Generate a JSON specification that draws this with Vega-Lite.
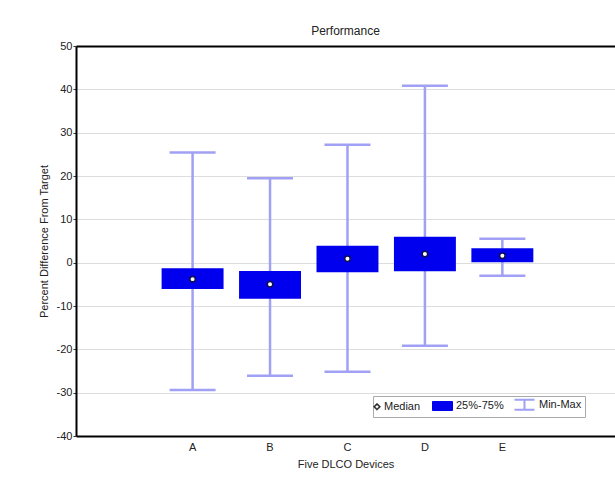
{
  "$schema": "https://vega.github.io/schema/vega-lite/v6.json",
  "width": 539,
  "height": 390,
  "autosize": {"type": "none"},
  "padding": {"left": 76, "top": 46, "right": 0, "bottom": 46},
  "background": "white",
  "config": {
    "font": "Liberation Sans",
    "view": {"stroke": null}
  },
  "title": {
    "text": "Performance",
    "fontSize": 12,
    "fontWeight": "normal",
    "color": "#222",
    "offset": 2,
    "font": "Liberation Sans"
  },
  "data": {
    "values": [
      {"device": "A", "min": -29.4, "q1": -6.1, "median": -3.8, "q3": -1.3, "max": 25.4},
      {"device": "B", "min": -26.1, "q1": -8.3, "median": -5.0, "q3": -1.9, "max": 19.5},
      {"device": "C", "min": -25.2, "q1": -2.2, "median": 0.9, "q3": 3.9, "max": 27.2},
      {"device": "D", "min": -19.2, "q1": -2.0, "median": 2.0, "q3": 6.0, "max": 40.8},
      {"device": "E", "min": -3.0, "q1": 0.1, "median": 1.6, "q3": 3.3, "max": 5.5}
    ]
  },
  "encoding": {
    "x": {
      "field": "device",
      "type": "nominal",
      "scale": {"type": "band", "paddingInner": 0, "paddingOuter": 0.98, "align": 0.513},
      "axis": {
        "title": "Five DLCO Devices",
        "titleFontSize": 11,
        "titleFontWeight": "normal",
        "titleColor": "#222",
        "titlePadding": 6,
        "labelAngle": 0,
        "labelFontSize": 11,
        "labelColor": "#222",
        "labelPadding": 5,
        "ticks": false,
        "domainColor": "black",
        "domainWidth": 2
      }
    }
  },
  "layer": [
    {
      "mark": {"type": "rule", "strokeWidth": 2.5},
      "encoding": {
        "y": {
          "field": "min",
          "type": "quantitative",
          "scale": {"domain": [-40, 50], "nice": false, "zero": false},
          "axis": {
            "title": "Percent Difference From Target",
            "titleFontSize": 11,
            "titleFontWeight": "normal",
            "titleColor": "#222",
            "titlePadding": 7,
            "values": [-40, -30, -20, -10, 0, 10, 20, 30, 40, 50],
            "labelExpr": "'' + datum.value",
            "labelFontSize": 11,
            "labelColor": "#222",
            "labelPadding": 1,
            "tickSize": 3,
            "tickColor": "#333",
            "domainColor": "black",
            "domainWidth": 2,
            "grid": true,
            "gridColor": {"condition": {"test": "datum.value === 50", "value": "black"}, "value": "#dddddd"},
            "gridWidth": {"condition": {"test": "datum.value === 50", "value": 2}, "value": 1}
          }
        },
        "y2": {"field": "max"},
        "color": {
          "datum": "Min-Max",
          "type": "nominal",
          "scale": {"domain": ["Median", "25%-75%", "Min-Max"], "range": ["#222222", "#0000ee", "#a0a0f5"]},
          "legend": {
            "title": null,
            "orient": "none",
            "legendX": 297,
            "legendY": 350,
            "direction": "horizontal",
            "columns": 3,
            "strokeColor": "#aaaaaa",
            "fillColor": "white",
            "padding": 3,
            "columnPadding": 6,
            "labelFontSize": 11,
            "labelColor": "#222",
            "labelOffset": {"expr": "datum.value === 'Median' ? -3 : datum.value === '25%-75%' ? 18 : 8"},
            "symbolSize": 400,
            "symbolOpacity": 1,
            "symbolType": {"expr": "datum.value === 'Median' ? 'M-0.45,-0.36L-0.09,0L-0.45,0.36L-0.81,0ZM-0.45,-0.2L-0.65,0L-0.45,0.2L-0.25,0Z' : datum.value === '25%-75%' ? 'M0,-0.45H2V0.45H0Z' : 'M-1.1,-0.5H0.9M-0.1,-0.5V0.5M-1.1,0.5H0.9'"},
            "symbolFillColor": {"expr": "datum.value === '25%-75%' ? '#0000ee' : datum.value === 'Median' ? '#222222' : 'transparent'"},
            "symbolStrokeColor": {"expr": "datum.value === 'Median' ? '#222222' : datum.value === '25%-75%' ? '#0000ee' : '#a0a0f5'"},
            "symbolStrokeWidth": {"expr": "datum.value === 'Min-Max' ? 2 : datum.value === 'Median' ? 0.5 : 1"}
          }
        }
      }
    },
    {
      "mark": {"type": "tick", "size": 46, "thickness": 2.5, "orient": "horizontal", "opacity": 1},
      "encoding": {
        "y": {"field": "min", "type": "quantitative"},
        "color": {"datum": "Min-Max", "type": "nominal"}
      }
    },
    {
      "mark": {"type": "tick", "size": 46, "thickness": 2.5, "orient": "horizontal", "opacity": 1},
      "encoding": {
        "y": {"field": "max", "type": "quantitative"},
        "color": {"datum": "Min-Max", "type": "nominal"}
      }
    },
    {
      "mark": {"type": "bar", "width": {"band": 0.8}},
      "encoding": {
        "y": {"field": "q1", "type": "quantitative"},
        "y2": {"field": "q3"},
        "color": {"datum": "25%-75%", "type": "nominal"}
      }
    },
    {
      "mark": {"type": "point", "filled": true, "fill": "white", "stroke": "#10104a", "strokeWidth": 1.5, "size": 30, "opacity": 1},
      "encoding": {
        "y": {"field": "median", "type": "quantitative"},
        "color": {"datum": "Median", "type": "nominal"}
      }
    }
  ]
}
